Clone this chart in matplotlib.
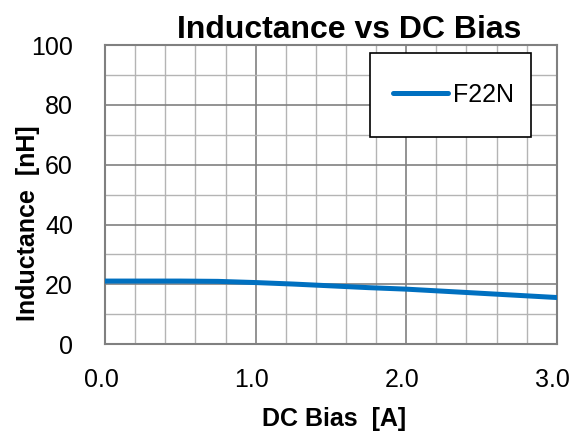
import numpy as np
import matplotlib
matplotlib.use("Agg")
import matplotlib.pyplot as plt
import matplotlib.transforms as mtransforms
from matplotlib.ticker import MultipleLocator
from matplotlib.patches import Rectangle

plt.rcParams['font.family'] = ['Liberation Sans', 'DejaVu Sans']

# DC bias current [A] and inductance [nH]
bias = [0.0, 0.25, 0.5, 0.75, 1.0, 1.25, 1.5, 1.75, 2.0, 2.25, 2.5, 2.75, 3.0]
inductance = [21.1, 21.1, 21.1, 21.0, 20.6, 20.1, 19.5, 18.9, 18.4, 17.7, 17.0, 16.3, 15.6]
series_name = "F22N"

fig = plt.figure(figsize=(5.71, 4.34), dpi=100)
ax = fig.add_axes([0.184, 0.207, 0.791, 0.689])

ax.plot(bias, inductance, color='#0070c0', lw=3.6, label=series_name,
        solid_capstyle='round', zorder=3)

ax.set_xlim(0, 3)
ax.set_ylim(0, 100)
ax.xaxis.set_major_locator(MultipleLocator(1.0))
ax.xaxis.set_minor_locator(MultipleLocator(0.2))
ax.yaxis.set_major_locator(MultipleLocator(20))
ax.yaxis.set_minor_locator(MultipleLocator(10))
ax.set_xticklabels([f"{v:.1f}" for v in ax.get_xticks()])

ax.grid(which='major', color='#808080', lw=1.2)
ax.grid(which='minor', color='#b4b4b4', lw=1.0)
ax.tick_params(which='both', length=0, labelsize=18)
ax.tick_params(axis='x', pad=17)
ax.tick_params(axis='y', pad=23)
# x tick labels sit a little left of their grid lines in the reference
shift = mtransforms.ScaledTranslation(-4 / 100, 0, fig.dpi_scale_trans)
for lbl in ax.get_xticklabels():
    lbl.set_transform(lbl.get_transform() + shift)
for s in ax.spines.values():
    s.set_color('#808080')
    s.set_linewidth(1.5)

ax.set_title("Inductance vs DC Bias", fontsize=23, fontweight='bold', pad=2.5, x=0.54)
ax.set_xlabel("DC Bias  [A]", fontsize=18, fontweight='bold')
ax.set_ylabel("Inductance  [nH]", fontsize=18, fontweight='bold')
ax.xaxis.set_label_coords(0.507, -0.251)
ax.xaxis.label.set_va('center')
ax.yaxis.set_label_coords(-0.170, 0.405)
ax.yaxis.label.set_va('center')

# legend frame drawn as a box, legend entries without frame
ax.add_patch(Rectangle((0.586, 0.692), 0.356, 0.281, transform=ax.transAxes,
                       facecolor='white', edgecolor='black', lw=1.2, zorder=4))
leg = ax.legend(loc='center', bbox_to_anchor=(0.771, 0.833), fontsize=18,
                frameon=False, handlelength=2.2, handletextpad=0.2,
                borderpad=0, borderaxespad=0)
leg.set_zorder(5)

fig.savefig("out.png", dpi=100)
